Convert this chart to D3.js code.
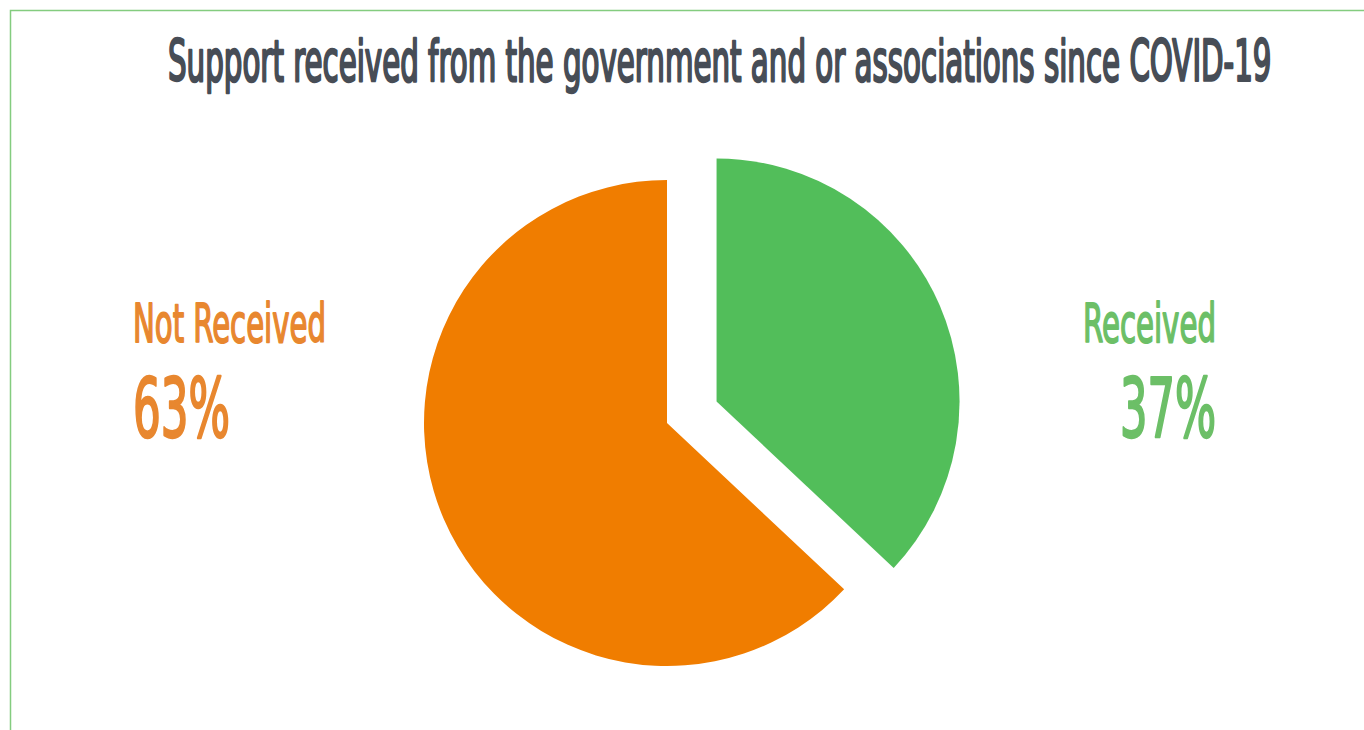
<!DOCTYPE html>
<html>
<head>
<meta charset="utf-8">
<script src="https://cdn.jsdelivr.net/npm/d3@7"></script>
<style>
  html, body { margin: 0; padding: 0; background: #ffffff; }
  svg { display: block; }
</style>
</head>
<body>
<script>
// Survey data
const categories = ["Received", "Not Received"];
const values = [37, 63];
const exploded = ["Received"];
const title = "Support received from the government and or associations since COVID-19";

const W = 1364, H = 730;
const FONT = "'Liberation Sans Narrow', 'DejaVu Sans Condensed', 'Roboto Condensed', sans-serif";

const sliceColor = d3.scaleOrdinal().domain(categories).range(["#52be5a", "#f07d00"]);
const textColor = d3.scaleOrdinal().domain(categories).range(["#6cbf67", "#e8872f"]);

const svg = d3.select("body").append("svg")
  .attr("width", W).attr("height", H);

// frame
svg.append("rect")
  .attr("x", 10.5).attr("y", 10.5)
  .attr("width", W + 20).attr("height", H + 20)
  .attr("fill", "none")
  .attr("stroke", "#84cc7f")
  .attr("stroke-width", 1.5);

// Medium-weight text: regular face thickened by a thin outline of the same colour,
// then squeezed horizontally to a given width
function fitText(x, y, width, anchor, size, color, weight, str) {
  const sel = svg.append("text")
    .attr("font-family", FONT)
    .attr("font-size", size)
    .attr("fill", color)
    .attr("stroke", color)
    .attr("stroke-width", weight)
    .attr("stroke-linejoin", "round")
    .attr("text-anchor", anchor)
    .text(str);
  const k = width / sel.node().getComputedTextLength();
  sel.attr("transform", `translate(${x},${y}) scale(${k},1)`);
  return sel;
}

// title
fitText(168, 81, 1104, "start", 57, "#474d56", 2.5, title);

// pie
const cx = 667, cy = 423, R = 243, explode = 54;
const pie = d3.pie().sort(null).value(d => d.value);
const arcs = pie(categories.map((c, i) => ({ name: c, value: values[i] })));
const arc = d3.arc().innerRadius(0).outerRadius(R);

const g = svg.append("g").attr("transform", `translate(${cx},${cy})`);
g.selectAll("path")
  .data(arcs)
  .join("path")
  .attr("d", arc)
  .attr("fill", d => sliceColor(d.data.name))
  .attr("transform", d => {
    if (!exploded.includes(d.data.name)) return null;
    const a = (d.startAngle + d.endAngle) / 2;
    return `translate(${explode * Math.sin(a)},${-explode * Math.cos(a)})`;
  });

// labels
const labelSpec = {
  "Not Received": { anchor: "start", x: 133, nameW: 193, pctW: 97 },
  "Received": { anchor: "end", x: 1216, nameW: 133, pctW: 96 }
};
const fmt = v => d3.format(".0%")(v / d3.sum(values));

arcs.forEach(d => {
  const s = labelSpec[d.data.name];
  const col = textColor(d.data.name);
  fitText(s.x, 342, s.nameW, s.anchor, 54, col, 1.8, d.data.name);
  fitText(s.x, 437, s.pctW, s.anchor, 82, col, 2.4, fmt(d.data.value));
});
</script>
</body>
</html>
